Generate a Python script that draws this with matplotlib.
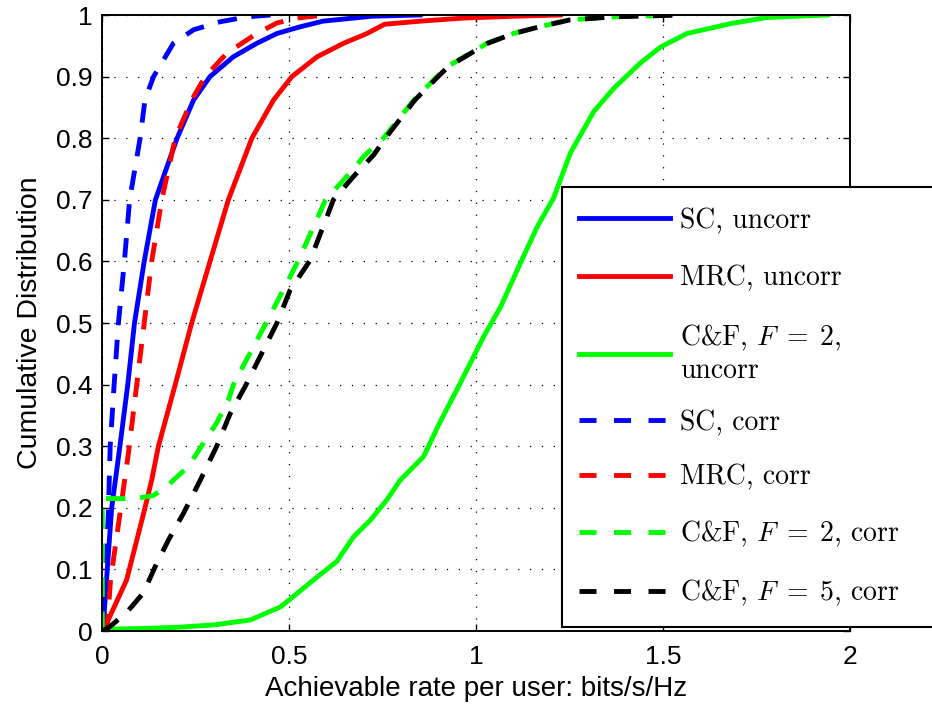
import matplotlib
matplotlib.use("Agg")
import matplotlib.pyplot as plt
from matplotlib.patches import Rectangle
from matplotlib.font_manager import FontProperties

plt.rcParams['font.family'] = ['Liberation Sans', 'DejaVu Sans']
plt.rcParams['mathtext.fontset'] = 'cm'

# CDF curves (rate in bits/s/Hz, cumulative probability)
sc_uncorr_x = [0, 0.005, 0.025, 0.047, 0.068, 0.086, 0.112, 0.142, 0.165, 0.2, 0.244, 0.288, 0.35, 0.413, 0.467, 0.53, 0.59, 0.72, 0.85]
sc_uncorr_y = [0, 0.03, 0.2, 0.3, 0.4, 0.5, 0.6, 0.7, 0.74, 0.8, 0.862, 0.9, 0.932, 0.954, 0.97, 0.981, 0.99, 0.998, 1.0]

mrc_uncorr_x = [0, 0.012, 0.065, 0.11, 0.132, 0.15, 0.195, 0.239, 0.288, 0.337, 0.4, 0.458, 0.507, 0.574, 0.645, 0.708, 0.755, 0.85, 0.966, 1.1, 1.225]
mrc_uncorr_y = [0, 0.013, 0.083, 0.19, 0.245, 0.3, 0.4, 0.5, 0.6, 0.7, 0.8, 0.862, 0.9, 0.932, 0.954, 0.97, 0.985, 0.99, 0.995, 0.998, 1.0]

cf2_uncorr_x = [0, 0.1, 0.2, 0.3, 0.396, 0.476, 0.511, 0.565, 0.627, 0.672, 0.717, 0.761, 0.797, 0.859, 0.904, 0.957, 1.02, 1.065, 1.118, 1.163, 1.207, 1.252, 1.314, 1.368, 1.439, 1.493, 1.564, 1.68, 1.778, 1.94]
cf2_uncorr_y = [0.003, 0.004, 0.006, 0.01, 0.018, 0.039, 0.056, 0.083, 0.113, 0.153, 0.18, 0.213, 0.245, 0.283, 0.34, 0.402, 0.478, 0.526, 0.597, 0.656, 0.703, 0.776, 0.843, 0.881, 0.922, 0.948, 0.97, 0.986, 0.996, 1.0]

sc_corr_x = [0, 0.005, 0.016, 0.021, 0.031, 0.043, 0.059, 0.073, 0.101, 0.114, 0.137, 0.19, 0.244, 0.315, 0.387, 0.45]
sc_corr_y = [0, 0.03, 0.19, 0.3, 0.395, 0.5, 0.6, 0.7, 0.8, 0.862, 0.9, 0.954, 0.976, 0.989, 0.997, 1.0]

mrc_corr_x = [0, 0.013, 0.022, 0.047, 0.07, 0.09, 0.112, 0.132, 0.159, 0.195, 0.239, 0.275, 0.333, 0.413, 0.467, 0.52, 0.6]
mrc_corr_y = [0, 0.006, 0.083, 0.19, 0.29, 0.39, 0.5, 0.6, 0.7, 0.8, 0.862, 0.9, 0.938, 0.97, 0.987, 0.995, 1.0]

cf2_corr_x = [0, 0, 0.025, 0.09, 0.136, 0.172, 0.19, 0.23, 0.265, 0.306, 0.337, 0.352, 0.438, 0.525, 0.597, 0.654, 0.703, 0.752, 0.833, 0.895, 0.922, 1.029, 1.1, 1.17, 1.25, 1.37, 1.54]
cf2_corr_y = [0, 0.215, 0.215, 0.215, 0.22, 0.234, 0.245, 0.267, 0.3, 0.338, 0.375, 0.402, 0.5, 0.602, 0.7, 0.738, 0.773, 0.8, 0.862, 0.9, 0.916, 0.954, 0.97, 0.981, 0.992, 0.997, 1.0]

cf5_corr_x = [0, 0.02, 0.065, 0.11, 0.141, 0.177, 0.217, 0.262, 0.306, 0.342, 0.382, 0.467, 0.502, 0.556, 0.618, 0.672, 0.726, 0.757, 0.836, 0.898, 0.925, 1.03, 1.1, 1.17, 1.25, 1.37, 1.55]
cf5_corr_y = [0, 0.007, 0.03, 0.062, 0.104, 0.148, 0.191, 0.245, 0.3, 0.353, 0.397, 0.5, 0.553, 0.602, 0.7, 0.738, 0.773, 0.8, 0.862, 0.9, 0.916, 0.954, 0.97, 0.981, 0.992, 0.997, 1.0]

labels = ['SC, uncorr', 'MRC, uncorr', r'C&F, $F\;=\;2$,' + '\nuncorr', 'SC, corr',
          'MRC, corr', r'C&F, $F\;=\;2$, corr', r'C&F, $F\;=\;5$, corr']

x_ticks = [0, 0.5, 1, 1.5, 2]
x_ticklabels = ['0', '0.5', '1', '1.5', '2']
y_ticks = [0, 0.1, 0.2, 0.3, 0.4, 0.5, 0.6, 0.7, 0.8, 0.9, 1.0]
y_ticklabels = ['0', '0.1', '0.2', '0.3', '0.4', '0.5', '0.6', '0.7', '0.8', '0.9', '1']

fig = plt.figure(figsize=(9.32, 7.11), dpi=100)
ax = fig.add_axes([0.1098, 0.1125, 0.8023, 0.8664])

lw = 3.5
dash = (0, (4, 3))
lines = []
lines += ax.plot(sc_uncorr_x, sc_uncorr_y, color=(0, 0, 1), lw=lw)
lines += ax.plot(mrc_uncorr_x, mrc_uncorr_y, color=(1, 0, 0), lw=lw)
lines += ax.plot(cf2_uncorr_x, cf2_uncorr_y, color=(0, 1, 0), lw=lw)
lines += ax.plot(sc_corr_x, sc_corr_y, color=(0, 0, 1), lw=lw, ls=dash)
lines += ax.plot(mrc_corr_x, mrc_corr_y, color=(1, 0, 0), lw=lw, ls=dash)
lines += ax.plot(cf2_corr_x, cf2_corr_y, color=(0, 1, 0), lw=lw, ls=dash)
lines += ax.plot(cf5_corr_x, cf5_corr_y, color='k', lw=lw, ls=dash)

ax.set_xlim(0, 2)
ax.set_ylim(0, 1)
ax.set_xticks(x_ticks)
ax.set_xticklabels(x_ticklabels)
ax.set_yticks(y_ticks)
ax.set_yticklabels(y_ticklabels)
ax.tick_params(direction='in', length=5, width=1, top=True, right=True,
               labelsize=19, pad=7)
ax.tick_params(axis='x', pad=10)
ax.grid(True, color='k', linestyle=(0, (1, 8.5)), linewidth=0.9)
for s in ax.spines.values():
    s.set_linewidth(1.4)

ax.set_xlabel('Achievable rate per user: bits/s/Hz', fontsize=20, labelpad=5)
ax.set_ylabel('Cumulative Distribution', fontsize=20.5, labelpad=9)

# legend box runs off the right edge of the figure
box = Rectangle((562 / 932, 1 - 627 / 711), 0.5, (627 - 187) / 711,
                transform=fig.transFigure, facecolor='white', edgecolor='k',
                linewidth=1.5, zorder=4.5, clip_on=False)
ax.add_patch(box)

# two stacked legends so the wrapped entry keeps its own spacing
legend_kw = dict(loc='upper left', bbox_transform=fig.transFigure, frameon=False,
                 prop=FontProperties(family='cmr10', size=20),
                 handlelength=3.3, handletextpad=0.35, borderpad=0.6,
                 borderaxespad=0)
leg1 = ax.legend(lines[:3], labels[:3], bbox_to_anchor=(562 / 932, 1 - 191 / 711),
                 labelspacing=1.13, **legend_kw)
leg1.set_zorder(5)
for t in leg1.get_texts():
    t.set_linespacing(1.2)
ax.add_artist(leg1)

leg2 = ax.legend(lines[3:], labels[3:], bbox_to_anchor=(562 / 932, 1 - 393 / 711),
                 labelspacing=1.02, **legend_kw)
leg2.set_zorder(5)
for h in leg2.get_lines():
    h.set_linestyle((0, (3.5, 3.6)))

fig.savefig('out.png', dpi=100)
